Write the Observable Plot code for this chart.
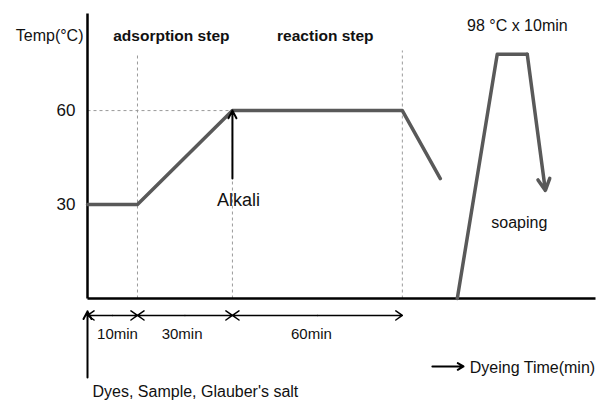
<!DOCTYPE html>
<html><head><meta charset="utf-8">
<script src="https://cdn.jsdelivr.net/npm/d3@7"></script>
<script src="https://cdn.jsdelivr.net/npm/@observablehq/plot@0.6"></script>
<style>
body{margin:0;background:#fff}
svg{font-family:"Liberation Sans",Arial,sans-serif}
</style>
</head><body><div id="chart"></div><script>
// Schematic dyeing profile (time in min, temperature in °C as drawn)
const profileTime = [0, 10, 40, 100, 113.4];
const profileTemp = [30, 30, 60, 60, 38.3];
const soapTime = [119.4, 133.5, 144.1];
const soapTemp = [0, 78, 78];
const soapArrowEnd = [150.5, 34.5];
const stepBounds = [0, 10, 40, 100];
const stepLabels = ["10min", "30min", "60min"];
const stepLabelAt = [6, 24.1, 67.9];
const yTicks = [30, 60];
const guideTimes = [10, 40, 100];
const guideTops = [77.6, 60, 79.2];
const xMax = 168.2, yMax = 91;

const profile = profileTime.map((t, i) => ({t, v: profileTemp[i]}));
const soap = soapTime.map((t, i) => ({t, v: soapTemp[i]}));
const guides = guideTimes.map((t, i) => ({t, top: guideTops[i]}));
const segs = stepLabels.map((l, i) => ({a: stepBounds[i], b: stepBounds[i + 1], m: (stepBounds[i] + stepBounds[i + 1]) / 2, at: stepLabelAt[i], label: l}));

const W = 603, H = 403, mL = 87, mR = 8, mT = 13, mB = 105;
const grey = "#595959";
const ink = "#111";
const font = "Liberation Sans, Arial, sans-serif";
// the time axis is drawn schematically (not to scale): piecewise stretch
const stretch = d3.scaleLinear().domain(stepBounds).range([0, 50, 145, 315]);

const plot = Plot.plot({
  width: W, height: H, marginLeft: mL, marginRight: mR, marginTop: mT, marginBottom: mB,
  x: {transform: t => stretch(t), domain: [0, stretch(xMax)], axis: null},
  y: {domain: [0, yMax], axis: null},
  style: {fontFamily: font, background: "#fff"},
  marks: [
    Plot.link(guides, {x1: "t", x2: "t", y1: 0, y2: "top", stroke: "#9a9a9a", strokeWidth: 1, strokeDasharray: "3,3"}),
    Plot.link([60], {x1: 0, x2: 40, y1: d => d, y2: d => d, stroke: "#9a9a9a", strokeWidth: 1, strokeDasharray: "3,3"}),
    Plot.link([0], {x1: 0, x2: 0, y1: 0, y2: yMax, stroke: "#000", strokeWidth: 2.5}),
    Plot.link([0], {x1: 0, x2: xMax, y1: 0, y2: 0, stroke: "#000", strokeWidth: 2.5}),
    Plot.line(profile, {x: "t", y: "v", stroke: grey, strokeWidth: 3.5}),
    Plot.line(soap, {x: "t", y: "v", stroke: grey, strokeWidth: 3.5}),
    Plot.arrow([0], {x1: soapTime[2], y1: soapTemp[2], x2: soapArrowEnd[0], y2: soapArrowEnd[1], stroke: grey, strokeWidth: 3.5, headLength: 5.5, headAngle: 55}),
    Plot.arrow([0], {x1: 40, y1: 38.3, x2: 40, y2: 60, stroke: "#000", strokeWidth: 2, headLength: 6.5, headAngle: 55}),
    Plot.arrow(segs, {x1: "m", x2: "a", y1: -5.4, y2: -5.4, stroke: "#000", strokeWidth: 1.5, headLength: 8, headAngle: 70}),
    Plot.arrow(segs, {x1: "m", x2: "b", y1: -5.4, y2: -5.4, stroke: "#000", strokeWidth: 1.5, headLength: 8, headAngle: 70}),
    Plot.text(segs, {x: "at", y: -11.4, text: "label", fontSize: 15, fill: ink}),
    Plot.arrow([0], {x1: 0, x2: 0, y1: -25.2, y2: -4.1, stroke: "#000", strokeWidth: 2, headLength: 6.5, headAngle: 55}),
    Plot.text(["Dyes, Sample, Glauber's salt"], {x: 0, y: -29.8, text: d => d, textAnchor: "start", dx: 5, fontSize: 16, fill: ink}),
    Plot.arrow([0], {x1: 110.6, x2: 121.6, y1: -21.7, y2: -21.7, stroke: "#000", strokeWidth: 2, headLength: 5, headAngle: 60}),
    Plot.text(["Dyeing Time(min)"], {x: 123.8, y: -22.2, text: d => d, textAnchor: "start", fontSize: 16, fill: ink}),
    Plot.text(yTicks, {x: 0, y: d => d, text: d => String(d), textAnchor: "end", dx: -12, fontSize: 17, fill: ink}),
    Plot.text(["Temp(°C)"], {x: 0, y: 83.8, text: d => d, textAnchor: "end", dx: -4, fontSize: 16, fill: ink}),
    Plot.text(["adsorption step"], {x: 20.7, y: 83.8, text: d => d, fontSize: 15.5, fontWeight: "bold", fill: ink}),
    Plot.text(["reaction step"], {x: 72.8, y: 83.8, text: d => d, fontSize: 15.5, fontWeight: "bold", fill: ink}),
    Plot.text(["98 °C x 10min"], {x: 140.6, y: 87.1, text: d => d, fontSize: 16, fill: ink}),
    Plot.text(["Alkali"], {x: 42.1, y: 31.3, text: d => d, fontSize: 18, fill: ink}),
    Plot.text(["soaping"], {x: 141.3, y: 24.3, text: d => d, fontSize: 16, fill: ink})
  ]
});
document.getElementById("chart").append(plot);
</script></body></html>
